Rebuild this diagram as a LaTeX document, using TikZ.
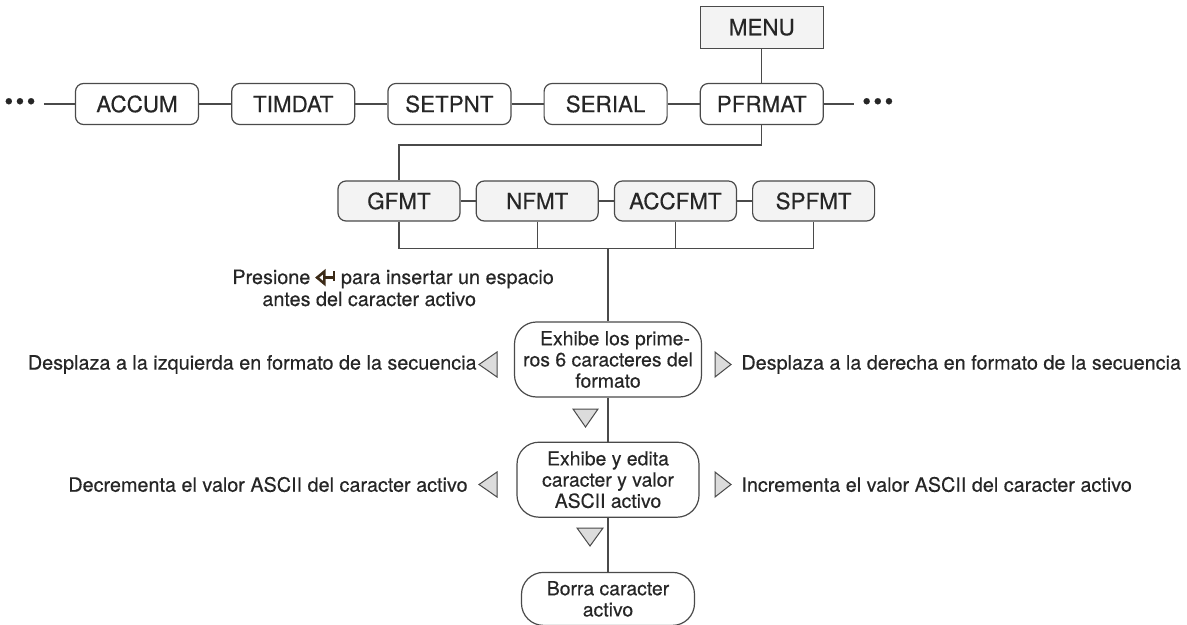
\documentclass[tikz,border=0pt]{standalone}
\usepackage{fontspec}
\setmainfont{TeX Gyre Heros}[FakeBold=0.35]
\usepackage{xcolor}
\usetikzlibrary{positioning}

\definecolor{trazo}{HTML}{4A4A4A}
\definecolor{texto}{HTML}{262626}
\definecolor{relleno}{HTML}{F3F3F3}
\definecolor{flecha}{HTML}{DCDCDC}
\definecolor{tecla}{HTML}{3B2A17}

% simbolo de la tecla enter
\newcommand{\teclaenter}{\tikz[baseline=-3.2pt, x=1pt, y=1pt, line width=1.3pt, color=tecla]{
    \draw (3.6,3) -- (0,0) -- (3.6,-3) -- cycle;
    \draw (3.6,0) -- (8.5,0);
    \draw (8.5,-1.8) -- (8.5,3.4);}}

\begin{document}
\begin{tikzpicture}[
        x=0.5pt, y=-0.5pt,
        every node/.style={
            font=\fontsize{9.9}{11}\selectfont,
            text=texto,
            align=center
        },
        opcion/.style={
            draw=trazo,
            line width=0.6pt,
            rounded corners=4pt,
            font=\fontsize{11.2}{12}\selectfont,
            minimum width=61.5pt,
            minimum height=20.5pt,
            inner sep=0pt
        },
        menu/.style={
            opcion,
            rounded corners=0pt,
            fill=relleno,
            minimum height=21pt
        },
        formato/.style={
            opcion,
            fill=relleno,
            minimum width=61pt,
            minimum height=20pt
        },
        paso/.style={
            draw=trazo,
            line width=0.6pt,
            rounded corners=11pt,
            font=\fontsize{9.7}{10.6}\selectfont,
            inner sep=0pt
        },
        puntos/.style={
            font=\fontsize{12.5}{12.5}\selectfont,
            inner sep=4pt
        },
        nota/.style={
            inner sep=0pt
        },
        tri/.style={
            draw=trazo,
            line width=0.5pt,
            fill=flecha,
            line join=miter
        },
        conector/.style={
            draw=trazo,
            line width=0.6pt
        }
    ]

    \useasboundingbox (0,0) rectangle (1187,625);

    % fila de menus
    \node[opcion] (accum) at (137,104) {ACCUM};
    \node[opcion, right=16pt of accum] (timdat) {TIMDAT};
    \node[opcion, right=16pt of timdat] (setpnt) {SETPNT};
    \node[opcion, right=16pt of setpnt] (serial) {SERIAL};
    \node[opcion, right=16pt of serial] (pfrmat) {PFRMAT};

    \node[menu, above=17pt of pfrmat] (menu) {MENU};

    \node[puntos, left=15.5pt of accum] (puntosizq) {•\hspace{1.2pt}•\hspace{1.2pt}•};
    \node[puntos, right=15pt of pfrmat] (puntosder) {•\hspace{1.2pt}•\hspace{1.2pt}•};

    % formatos
    \node[formato] (gfmt) at (399,201) {GFMT};
    \node[formato, right=7.5pt of gfmt] (nfmt) {NFMT};
    \node[formato, right=7.5pt of nfmt] (accfmt) {ACCFMT};
    \node[formato, right=7.5pt of accfmt] (spfmt) {SPFMT};

    % edicion
    \node[paso, minimum width=93.5pt, minimum height=37.5pt] (exhibe) at (608,359.5) {
        \hspace*{7pt}Exhibe los prime-\\
        ros 6 caracteres del\\
        formato
    };
    \node[paso, minimum width=91pt, minimum height=37.5pt, below=22pt of exhibe] (edita) {
        Exhibe y edita\\
        caracter y valor\\
        ASCII activo
    };
    \node[paso, minimum width=86.5pt, minimum height=26.5pt, below=27pt of edita] (borra) {
        Borra caracter\\
        activo
    };

    \node[nota, align=left, anchor=base west] (presione) at (232,306) {
        Presione \teclaenter\ para insertar un espacio\\
        \hspace*{15pt}antes del caracter activo
    };

    % triangulos
    \coordinate (izq1) at (479,364.5);
    \coordinate (der1) at (731,364.5);
    \coordinate (izq2) at (479,484.5);
    \coordinate (der2) at (731,484.5);

    \draw[tri] (izq1) -- ++(18,-12.5) -- ++(0,25) -- cycle;
    \draw[tri] (der1) -- ++(-16,-12.5) -- ++(0,25) -- cycle;
    \draw[tri] (izq2) -- ++(18,-12.5) -- ++(0,25) -- cycle;
    \draw[tri] (der2) -- ++(-16,-12.5) -- ++(0,25) -- cycle;
    \draw[tri] (573,409) -- (598,409) -- (585.5,427) -- cycle;
    \draw[tri] (577,528) -- (603,528) -- (590,546) -- cycle;

    \node[nota, left=1pt of izq1] (desizq) {Desplaza a la izquierda en formato de la secuencia};
    \node[nota, right=5pt of der1] (desder) {Desplaza a la derecha en formato de la secuencia};
    \node[nota, left=5.5pt of izq2] (decre) {Decrementa el valor ASCII del caracter activo};
    \node[nota, right=5pt of der2] (incre) {Incrementa el valor ASCII del caracter activo};

    % conexiones
    \draw[conector] (puntosizq) -- (accum);
    \draw[conector] (accum) -- (timdat);
    \draw[conector] (timdat) -- (setpnt);
    \draw[conector] (setpnt) -- (serial);
    \draw[conector] (serial) -- (pfrmat);
    \draw[conector] (pfrmat) -- (puntosder);
    \draw[conector] (menu) -- (pfrmat);

    \draw[conector] (pfrmat.south) -- ++(0,20) -| (gfmt.north);
    \draw[conector] (gfmt) -- (nfmt);
    \draw[conector] (nfmt) -- (accfmt);
    \draw[conector] (accfmt) -- (spfmt);

    \draw[conector] (gfmt.south) -- ++(0,27) coordinate (bus) -| (spfmt.south);
    \draw[conector] (nfmt.south) -- (nfmt.south |- bus);
    \draw[conector] (accfmt.south) -- (accfmt.south |- bus);
    \draw[conector] (exhibe.north |- bus) -- (exhibe.north);

    \draw[conector] (exhibe) -- (edita);
    \draw[conector] (edita) -- (borra);

\end{tikzpicture}
\end{document}
